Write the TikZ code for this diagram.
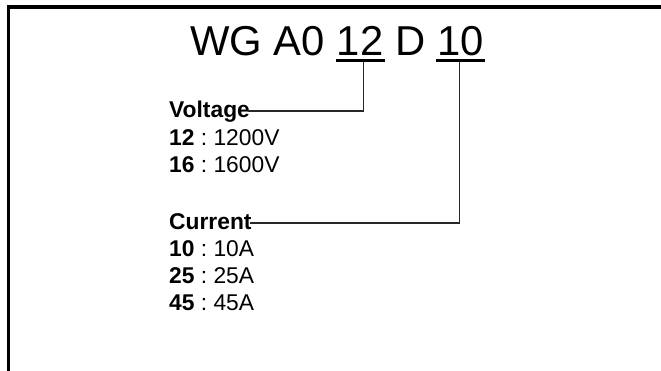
\documentclass[tikz,border=0pt]{standalone}
\usepackage{fontspec}
\setmainfont{Liberation Sans}
\frenchspacing
\usetikzlibrary{positioning}

\tikzset{
  code/.style={inner sep=0pt, anchor=base west, font=\fontsize{41.8}{50}\selectfont},
  head/.style={inner sep=0pt, anchor=base west, text height=16pt, text depth=4pt,
    font=\fontsize{22.8}{27}\selectfont\bfseries},
  entry/.style={inner sep=0pt, anchor=base west, font=\fontsize{22.8}{27}\selectfont},
  bar/.style={line width=3.5pt},
  lead/.style={line width=1.3pt, black!85},
}

\begin{document}
\begin{tikzpicture}[x=1pt, y=-1pt]
    \useasboundingbox (0,0) rectangle (661,370);
    \clip (0,0) rectangle (661,370);
    \draw[line width=3.5pt] (8.5,6.8) rectangle (700,420);

    % part number
    \node[code] (wg) at (190,55.5) {WG A0};
    \node[code, base right=11.6pt of wg] (volt) {12};
    \node[code, base right=11.6pt of volt] (d) {D};
    \node[code, base right=11.6pt of d] (curr) {10};
    \coordinate (volt bar) at ([yshift=-5pt]volt.base);
    \coordinate (curr bar) at ([yshift=-5pt]curr.base);
    \draw[bar] ([xshift=-1pt]volt.base west |- volt bar) -- ([xshift=1pt]volt.base east |- volt bar);
    \draw[bar] ([xshift=-1pt]curr.base west |- curr bar) -- ([xshift=1pt]curr.base east |- curr bar);

    % voltage codes
    \node[head] (vhead) at (169,117) {Voltage};
    \node[entry] (v12) at (169,145) {\textbf{12} : 1200V};
    \node[entry] (v16) at (169,172) {\textbf{16} : 1600V};

    % current codes
    \node[head] (chead) at (169,229) {Current};
    \node[entry] (c10) at (169,256) {\textbf{10} : 10A};
    \node[entry] (c25) at (169,283) {\textbf{25} : 25A};
    \node[entry] (c45) at (169,310) {\textbf{45} : 45A};

    \draw[lead] ([xshift=3pt]volt bar) |- ([xshift=-2pt]vhead.east);
    \draw[lead] ([xshift=-1pt]curr bar) |- ([xshift=-2pt]chead.east);
\end{tikzpicture}
\end{document}
